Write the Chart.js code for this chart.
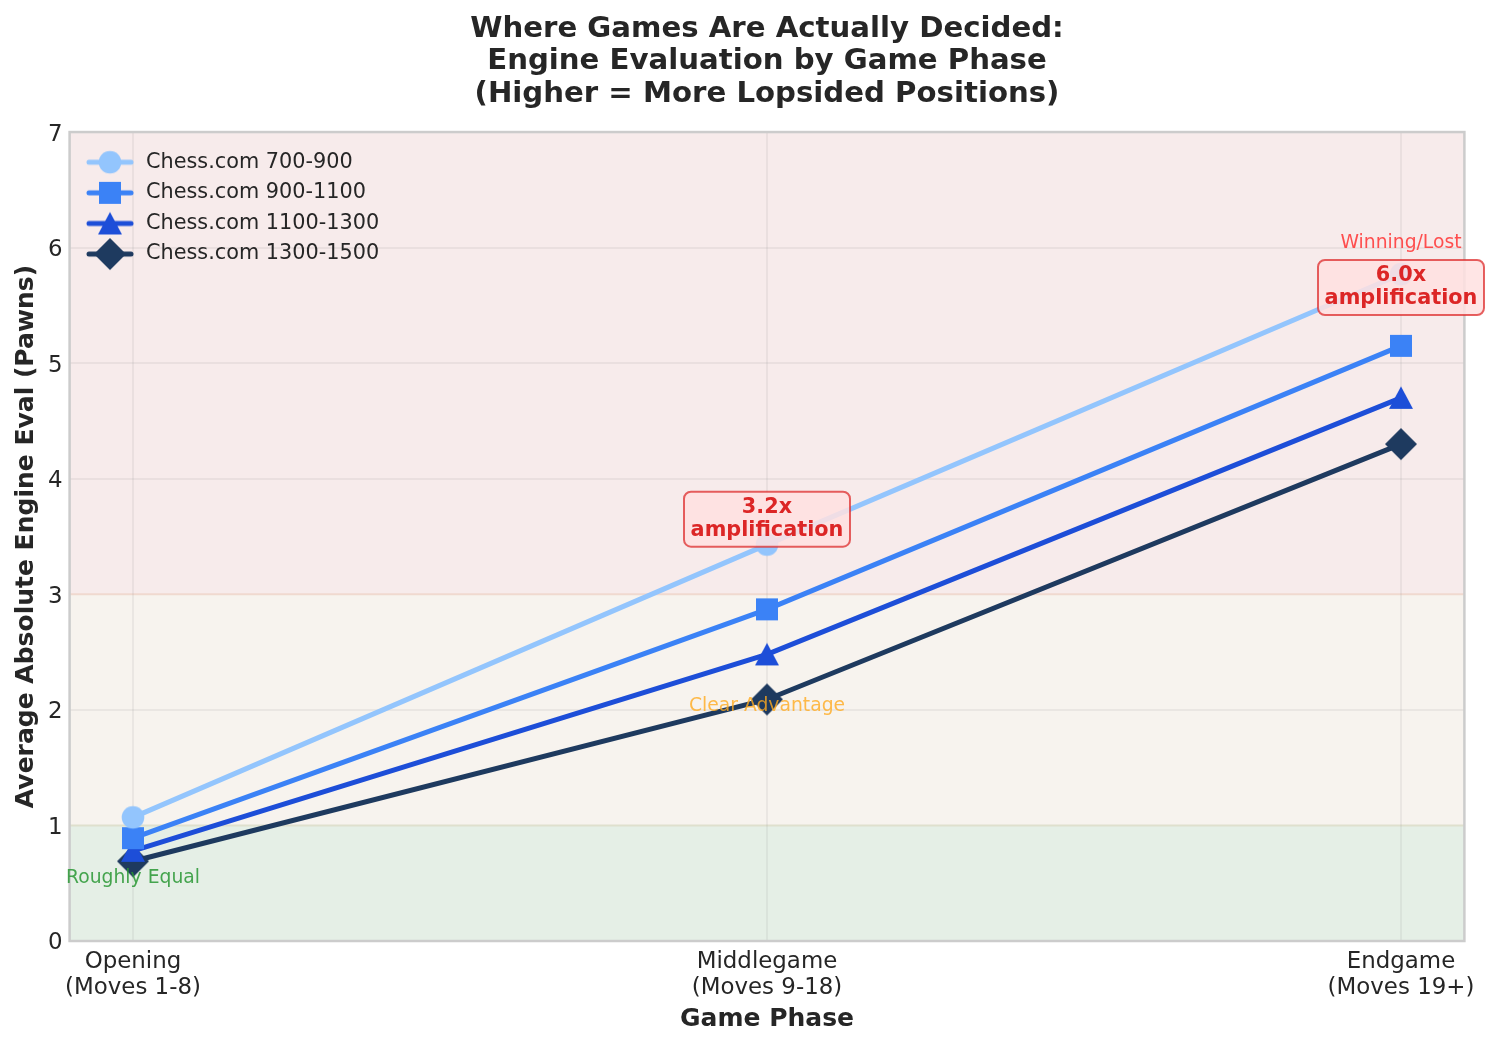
<!DOCTYPE html>
<html><head><meta charset="utf-8">
<style>html,body{margin:0;padding:0;background:#fff}canvas{display:block}</style>
<script src="https://cdn.jsdelivr.net/npm/chart.js@4"></script>
</head><body><canvas id="c" width="1492" height="1045" style="width:1492px;height:1045px"></canvas>
<script>
const phases = [["Opening","(Moves 1-8)"],["Middlegame","(Moves 9-18)"],["Endgame","(Moves 19+)"]];
const labels700 = "Chess.com 700-900";
const labels900 = "Chess.com 900-1100";
const labels1100 = "Chess.com 1100-1300";
const labels1300 = "Chess.com 1300-1500";
const values700 = [1.07, 3.43, 5.77];
const values900 = [0.89, 2.87, 5.15];
const values1100 = [0.78, 2.48, 4.70];
const values1300 = [0.69, 2.09, 4.30];
const yTicks = [0,1,2,3,4,5,6,7];
const zones = [[0,1,"#e5efe6"],[1,3,"#f7f3ee"],[3,7,"#f7ebeb"]];
const zoneLines = [[1,"#dfe0cd"],[3,"#f0d9cf"]];
const zoneLabels = [["Roughly Equal",0,0.54,"rgba(40,150,50,0.85)"],["Clear Advantage",1,2.03,"rgba(255,170,30,0.8)"],["Winning/Lost",2,6.04,"rgba(255,50,50,0.85)"]];
const callouts = [["3.2x","amplification",1,3.65],["6.0x","amplification",2,5.655]];
const FONT = "'DejaVu Sans'";
const INK = "#262626";

function marker(shape,color,withLine){
  const w = withLine?52:36, h = 36;
  const c = document.createElement('canvas'); c.width=w; c.height=h;
  const g = c.getContext('2d'); const x=w/2,y=h/2;
  g.fillStyle=color; g.strokeStyle=color;
  if(withLine){ g.lineWidth=5; g.lineCap='round'; g.beginPath(); g.moveTo(x-21,y); g.lineTo(x+21,y); g.stroke(); }
  g.beginPath();
  if(shape==='circle') g.arc(x,y,11.3,0,Math.PI*2);
  if(shape==='square') g.rect(x-11,y-11,22,22);
  if(shape==='triangle'){ g.moveTo(x,y-11.5); g.lineTo(x+12,y+11); g.lineTo(x-12,y+11); g.closePath(); }
  if(shape==='diamond'){ g.moveTo(x,y-16); g.lineTo(x+16,y); g.lineTo(x,y+16); g.lineTo(x-16,y); g.closePath(); }
  g.fill();
  return c;
}
function mk(label,values,color,shape){
  return {label,data:values.map((v,i)=>({x:i,y:v})),borderColor:color,backgroundColor:color,borderWidth:5,
    pointStyle:marker(shape,color,false),legendStyle:marker(shape,color,true),pointRadius:11,pointHoverRadius:11,tension:0,clip:false,borderCapStyle:'round'};
}
const datasets=[mk(labels700,values700,"#93c5fd",'circle'),mk(labels900,values900,"#3b82f6",'square'),
  mk(labels1100,values1100,"#1d4ed8",'triangle'),mk(labels1300,values1300,"#1e3a5f",'diamond')];

const decor={id:'decor',
 beforeDraw(chart){
  const {ctx,chartArea:a,scales:{y}}=chart; ctx.save();
  zones.forEach(([lo,hi,col])=>{ctx.fillStyle=col;ctx.fillRect(a.left,y.getPixelForValue(hi),a.right-a.left,y.getPixelForValue(lo)-y.getPixelForValue(hi));});
  zoneLines.forEach(([v,col])=>{ctx.strokeStyle=col;ctx.lineWidth=2;ctx.beginPath();ctx.moveTo(a.left,y.getPixelForValue(v));ctx.lineTo(a.right,y.getPixelForValue(v));ctx.stroke();});
  ctx.restore();
  chart.legend.left=a.left+5; chart.legend.top=a.top+10;
 },
 afterDatasetsDraw(chart){
  const {ctx,chartArea:a,scales:{x,y}}=chart; ctx.save();
  ctx.strokeStyle="#cccccc";ctx.lineWidth=2.5;ctx.strokeRect(a.left,a.top,a.right-a.left,a.bottom-a.top);
  ctx.textAlign='center';ctx.textBaseline='middle';
  ctx.font="18.75px "+FONT;
  zoneLabels.forEach(([t,i,v,col])=>{ctx.fillStyle=col;ctx.fillText(t,x.getPixelForValue(i),y.getPixelForValue(v));});
  callouts.forEach(([a1,a2,i,v])=>{
    const cx=x.getPixelForValue(i), cy=y.getPixelForValue(v), w=166,h=55;
    ctx.beginPath();ctx.roundRect(cx-w/2,cy-h/2,w,h,7);
    ctx.fillStyle="rgba(255,225,225,0.85)";ctx.fill();
    ctx.strokeStyle="rgba(220,38,38,0.72)";ctx.lineWidth=2;ctx.stroke();
    ctx.fillStyle="#dc2626";ctx.font="bold 20.8px "+FONT;
    ctx.fillText(a1,cx,cy-12);ctx.fillText(a2,cx,cy+11.5);
  });
  ctx.restore();
 }
};

new Chart(document.getElementById('c'),{
 type:'line',
 data:{datasets},
 plugins:[decor],
 options:{
  responsive:false,animation:false,devicePixelRatio:1,
  layout:{padding:{top:0,right:27.6,bottom:0,left:0}},
  scales:{
   x:{type:'linear',min:-0.1,max:2.1,
     afterBuildTicks(s){s.ticks=phases.map((_,i)=>({value:i}));},
     afterFit(s){s.height=104;},
     ticks:{autoSkip:false,maxRotation:0,minRotation:0,color:INK,padding:8,font:{family:FONT,size:22.9,lineHeight:1.15},
       callback(v){return phases[v];}},
     grid:{color:"rgba(150,150,150,0.13)",lineWidth:2,drawTicks:false},
     border:{display:false},
     title:{display:true,text:"Game Phase",color:INK,font:{family:FONT,size:25,weight:'bold'},padding:{top:0,bottom:11}}},
   y:{min:0,max:7,
     afterBuildTicks(s){s.ticks=yTicks.map(v=>({value:v}));},
     afterFit(s){s.width=69.6;},
     ticks:{color:INK,padding:7,labelOffset:2.5,font:{family:FONT,size:22.9}},
     grid:{color(c){return [1,3].includes(c.tick&&c.tick.value)?"rgba(0,0,0,0)":"rgba(150,150,150,0.13)";},lineWidth:2,drawTicks:false},
     border:{display:false},
     title:{display:true,text:"Average Absolute Engine Eval (Pawns)",color:INK,font:{family:FONT,size:25,weight:'bold'},padding:{top:11,bottom:0}}}
  },
  plugins:{
   title:{display:true,fullSize:false,text:["Where Games Are Actually Decided:","Engine Evaluation by Game Phase","(Higher = More Lopsided Positions)"],
     color:INK,font:{family:FONT,size:29.2,weight:'bold',lineHeight:1.125},padding:{top:12.5,bottom:21}},
   legend:{display:true,position:'chartArea',align:'start',
     labels:{usePointStyle:true,pointStyleWidth:51.2,color:INK,padding:9.8,font:{family:FONT,size:20.8},
       generateLabels(chart){return chart.data.datasets.map((d,i)=>({text:d.label,datasetIndex:i,pointStyle:d.legendStyle,fontColor:INK,fillStyle:d.borderColor,strokeStyle:d.borderColor,lineWidth:0,hidden:false}));}}},
   tooltip:{enabled:false}
  }
 }
});
</script></body></html>
